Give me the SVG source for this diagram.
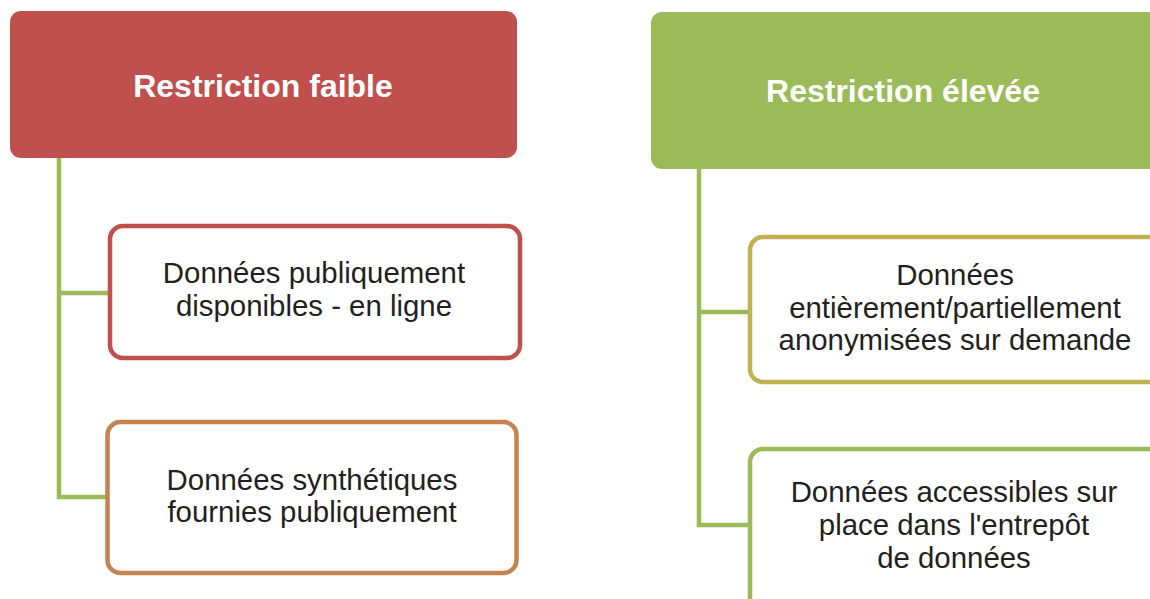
<svg xmlns="http://www.w3.org/2000/svg" width="1150" height="599" viewBox="0 0 1150 599">
<style>
.hdr{font-family:"Liberation Sans",Arial,sans-serif;font-weight:bold;font-size:32px;fill:#ffffff;text-anchor:middle}
.txt{font-family:"Liberation Sans",Arial,sans-serif;font-size:29.4px;fill:#231f20;text-anchor:middle}
.box{fill:#ffffff;stroke-width:4.5}
.conn{fill:none;stroke:#9bbb59;stroke-width:4.5;stroke-linejoin:miter}
</style>
<rect width="1150" height="599" fill="#ffffff"/>
<g id="connectors">
<path class="conn" d="M59,158 V497 H110 M59,293 H110"/>
<path class="conn" d="M699,169 V525 H750 M699,312 H750"/>
</g>
<g id="node-restriction-faible">
<rect x="10" y="11" width="507" height="147" rx="11" fill="#c0504d"/>
<text class="hdr" x="263" y="97">Restriction faible</text>
</g>
<g id="node-restriction-elevee">
<rect x="651" y="12" width="520" height="157" rx="11" fill="#9bbb59"/>
<text class="hdr" x="903" y="102">Restriction élevée</text>
</g>
<g id="node-publiques">
<rect class="box" x="110" y="226" width="410" height="132" rx="13" stroke="#c0504d"/>
<text class="txt" x="314" y="283">Données publiquement</text>
<text class="txt" x="314" y="316">disponibles - en ligne</text>
</g>
<g id="node-synthetiques">
<rect class="box" x="107.5" y="422" width="409" height="151" rx="13" stroke="#c4834f"/>
<text class="txt" x="312" y="490">Données synthétiques</text>
<text class="txt" x="312" y="522">fournies publiquement</text>
</g>
<g id="node-anonymisees">
<rect class="box" x="750" y="237" width="420" height="145" rx="13" stroke="#c1b152"/>
<text class="txt" x="955" y="285">Données</text>
<text class="txt" x="955" y="318">entièrement/partiellement</text>
<text class="txt" x="955" y="350">anonymisées sur demande</text>
</g>
<g id="node-entrepot">
<rect class="box" x="750" y="449" width="420" height="170" rx="13" stroke="#9bbb59"/>
<text class="txt" x="954" y="502">Données accessibles sur</text>
<text class="txt" x="954" y="535">place dans l'entrepôt</text>
<text class="txt" x="954" y="568">de données</text>
</g>
</svg>
